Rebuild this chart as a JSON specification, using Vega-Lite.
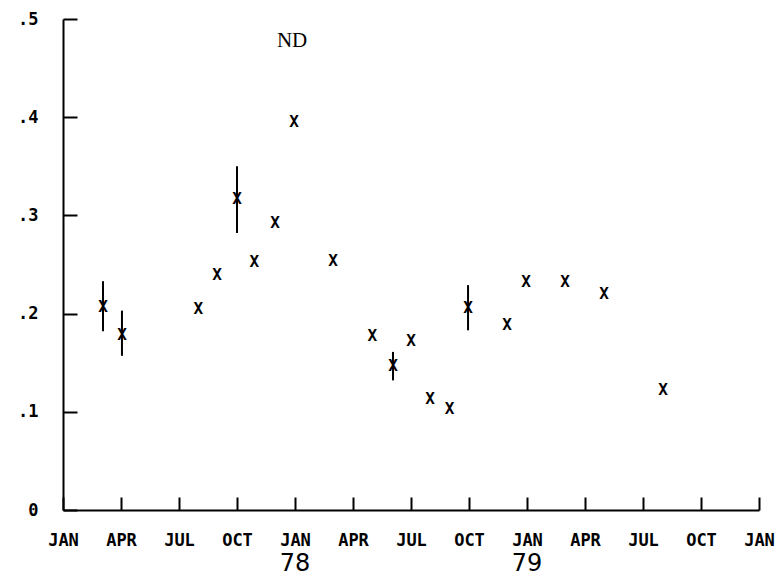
{
  "$schema": "https://vega.github.io/schema/vega-lite/v6.json",
  "autosize": "none",
  "width": 696,
  "height": 491,
  "padding": {"left": 63, "top": 19, "right": 19, "bottom": 69},
  "background": "white",
  "config": {"view": {"stroke": null}},
  "datasets": {
    "pts": [
      {"m": 2.07, "v": 0.207, "lo": 0.182, "hi": 0.233},
      {"m": 3.05, "v": 0.178, "lo": 0.157, "hi": 0.203},
      {"m": 7.0, "v": 0.205},
      {"m": 7.97, "v": 0.239},
      {"m": 9.0, "v": 0.317, "lo": 0.282, "hi": 0.350},
      {"m": 9.9, "v": 0.253},
      {"m": 10.97, "v": 0.292},
      {"m": 11.95, "v": 0.395},
      {"m": 13.97, "v": 0.254},
      {"m": 16.0, "v": 0.177},
      {"m": 17.07, "v": 0.147, "lo": 0.132, "hi": 0.161},
      {"m": 18.0, "v": 0.172},
      {"m": 18.99, "v": 0.113},
      {"m": 20.0, "v": 0.103},
      {"m": 20.95, "v": 0.206, "lo": 0.183, "hi": 0.229},
      {"m": 22.97, "v": 0.188},
      {"m": 23.95, "v": 0.232},
      {"m": 25.97, "v": 0.232},
      {"m": 27.99, "v": 0.220},
      {"m": 31.04, "v": 0.122}
    ],
    "years": [
      {"m": 12, "label": "78"},
      {"m": 24, "label": "79"}
    ],
    "title": [
      {"m": 11.85, "v": 0.4776, "label": "ND"}
    ]
  },
  "layer": [
    {
      "data": {"name": "pts"},
      "transform": [{"filter": "isValid(datum.lo)"}],
      "mark": {"type": "rule", "color": "black", "strokeWidth": 2},
      "encoding": {
        "x": {
          "field": "m", "type": "quantitative",
          "scale": {"domain": [0, 36], "nice": false, "zero": false},
          "axis": {
            "title": null,
            "values": [0, 3, 6, 9, 12, 15, 18, 21, 24, 27, 30, 33, 36],
            "labelExpr": "['JAN','APR','JUL','OCT'][(datum.value % 12) / 3]",
            "grid": false,
            "domainColor": "black",
            "domainWidth": 2,
            "tickColor": "black",
            "tickWidth": 2,
            "tickSize": -13,
            "labelPadding": 35,
            "labelFont": "DejaVu Sans Mono",
            "labelFontWeight": "bold",
            "labelFontSize": 17,
            "labelColor": "black",
            "labelBaseline": "top",
            "labelFlush": false,
            "labelOverlap": false
          }
        },
        "y": {
          "field": "lo", "type": "quantitative",
          "scale": {"domain": [0, 0.5], "nice": false},
          "axis": {
            "title": null,
            "values": [0, 0.1, 0.2, 0.3, 0.4, 0.5],
            "labelExpr": "datum.value == 0 ? '0' : slice(format(datum.value, '.1f'), 1)",
            "grid": false,
            "domainColor": "black",
            "domainWidth": 2,
            "tickColor": "black",
            "tickWidth": 2,
            "tickSize": -14,
            "labelPadding": 39,
            "labelFont": "DejaVu Sans Mono",
            "labelFontWeight": "bold",
            "labelFontSize": 17,
            "labelColor": "black",
            "labelFlush": false,
            "labelOverlap": false
          }
        },
        "y2": {"field": "hi"}
      }
    },
    {
      "data": {"name": "pts"},
      "mark": {"type": "text", "font": "DejaVu Sans Mono", "fontSize": 16, "fontWeight": "bold", "baseline": "middle", "align": "center", "color": "black"},
      "encoding": {
        "x": {"field": "m", "type": "quantitative"},
        "y": {"field": "v", "type": "quantitative"},
        "text": {"value": "X"}
      }
    },
    {
      "data": {"name": "years"},
      "mark": {"type": "text", "font": "DejaVu Sans", "fontSize": 24, "baseline": "middle", "align": "center", "dy": 54, "color": "black"},
      "encoding": {
        "x": {"field": "m", "type": "quantitative"},
        "y": {"datum": 0, "type": "quantitative"},
        "text": {"field": "label"}
      }
    },
    {
      "data": {"name": "title"},
      "mark": {"type": "text", "font": "Liberation Serif", "fontSize": 21, "baseline": "middle", "align": "center", "color": "black"},
      "encoding": {
        "x": {"field": "m", "type": "quantitative"},
        "y": {"field": "v", "type": "quantitative"},
        "text": {"field": "label"}
      }
    }
  ]
}
